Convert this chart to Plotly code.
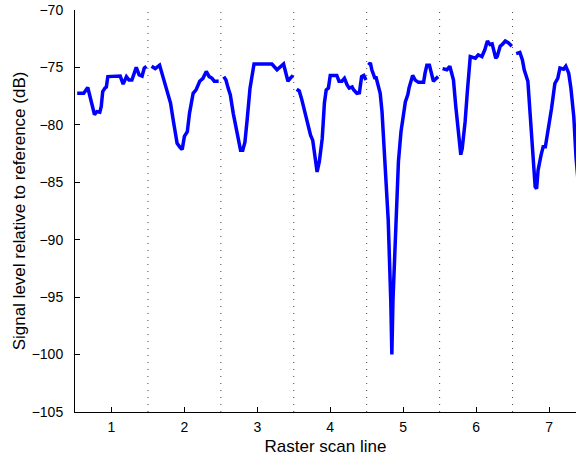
import plotly.graph_objects as go

# Scan-line boundaries (dotted separators)
boundaries = [1.5, 2.5, 3.5, 4.5, 5.5, 6.5]
xtick_vals = [1, 2, 3, 4, 5, 6, 7]
ytick_vals = [-105, -100, -95, -90, -85, -80, -75, -70]

seg1_x = [0.53, 0.62, 0.675, 0.72, 0.767, 0.80, 0.84, 0.86, 0.88, 0.91, 0.93, 0.95, 1.12, 1.16, 1.205, 1.24, 1.28, 1.34, 1.38, 1.42, 1.45, 1.48]
seg1_y = [-77.25, -77.25, -76.75, -78.0, -79.1, -78.85, -78.9, -78.4, -77.1, -76.8, -76.7, -75.8, -75.75, -76.45, -75.8, -76.1, -76.1, -75.0, -75.65, -75.75, -75.05, -74.9]

seg2_x = [1.55, 1.60, 1.66, 1.69, 1.76, 1.81, 1.85, 1.90, 1.945, 1.97, 2.0, 2.04, 2.07, 2.12, 2.16, 2.21, 2.255, 2.30, 2.34, 2.38, 2.41, 2.47]
seg2_y = [-74.9, -75.1, -74.8, -75.5, -76.95, -78.1, -79.7, -81.6, -82.0, -82.15, -81.0, -80.6, -79.0, -77.25, -76.95, -76.2, -75.95, -75.35, -75.8, -75.95, -76.2, -76.2]

seg3_x = [2.54, 2.57, 2.60, 2.63, 2.67, 2.72, 2.77, 2.80, 2.83, 2.86, 2.90, 2.955, 3.20, 3.27, 3.315, 3.36, 3.38, 3.42, 3.45, 3.49]
seg3_y = [-75.8, -76.1, -76.8, -77.4, -79.0, -80.45, -82.2, -82.2, -81.5, -79.6, -76.8, -74.7, -74.7, -75.2, -74.9, -74.7, -75.2, -76.2, -75.95, -75.7]

seg4_x = [3.54, 3.575, 3.61, 3.65, 3.69, 3.73, 3.76, 3.795, 3.82, 3.85, 3.89, 3.92, 3.945, 3.975, 4.0, 4.09, 4.12, 4.16, 4.195, 4.23, 4.26, 4.30, 4.32, 4.365, 4.40, 4.43, 4.46, 4.49]
seg4_y = [-76.9, -77.05, -77.8, -78.85, -79.9, -80.9, -81.35, -82.95, -84.1, -83.2, -81.2, -78.1, -76.95, -76.8, -75.7, -75.7, -76.2, -76.2, -75.95, -76.5, -76.8, -76.7, -76.95, -77.25, -77.2, -75.8, -75.7, -76.1]

seg5_x = [4.525, 4.55, 4.57, 4.61, 4.63, 4.66, 4.685, 4.71, 4.73, 4.74, 4.795, 4.83, 4.845, 4.86, 4.904, 4.935, 4.97, 4.99, 5.03, 5.065, 5.08, 5.13, 5.165, 5.21, 5.28, 5.30, 5.325, 5.36, 5.39, 5.415, 5.445, 5.48]
seg5_y = [-74.8, -74.6, -75.2, -75.9, -75.9, -76.5, -77.25, -78.85, -80.9, -82.2, -88.3, -95.3, -100.0, -95.3, -88.3, -83.2, -80.6, -79.7, -78.0, -77.35, -76.8, -75.7, -76.1, -76.3, -76.3, -75.5, -74.8, -74.8, -75.65, -76.2, -76.0, -75.8]

seg6_x = [5.54, 5.60, 5.64, 5.69, 5.72, 5.76, 5.79, 5.81, 5.85, 5.88, 5.905, 5.92, 5.99, 6.03, 6.08, 6.12, 6.155, 6.19, 6.22, 6.27, 6.29, 6.33, 6.36, 6.40, 6.44, 6.49]
seg6_y = [-75.1, -75.2, -74.9, -76.1, -78.3, -80.9, -82.6, -82.05, -79.7, -77.1, -75.05, -74.05, -74.2, -73.9, -74.05, -73.45, -72.7, -73.0, -72.95, -74.2, -74.05, -73.15, -73.0, -72.7, -72.85, -73.15]

seg7_x = [6.55, 6.60, 6.635, 6.66, 6.71, 6.74, 6.77, 6.81, 6.83, 6.85, 6.89, 6.92, 6.95, 6.99, 7.035, 7.08, 7.12, 7.15, 7.20, 7.23, 7.27, 7.30, 7.34, 7.37, 7.40]
seg7_y = [-73.8, -73.7, -74.35, -75.2, -76.2, -79.0, -81.9, -85.4, -85.55, -83.95, -82.65, -81.9, -81.9, -80.45, -78.55, -76.4, -75.95, -75.05, -75.15, -74.9, -75.5, -76.8, -79.3, -82.8, -85.0]

segments = [(seg1_x, seg1_y), (seg2_x, seg2_y), (seg3_x, seg3_y), (seg4_x, seg4_y),
            (seg5_x, seg5_y), (seg6_x, seg6_y), (seg7_x, seg7_y)]

fig = go.Figure()
for sx, sy in segments:
    fig.add_trace(go.Scatter(x=sx, y=sy, mode="lines",
                             line=dict(color="#0000ff", width=3.5),
                             showlegend=False, hoverinfo="skip"))

for b in boundaries:
    fig.add_shape(type="line", xref="x", yref="y", x0=b, x1=b, y0=-105, y1=-70,
                  line=dict(color="#444444", width=1, dash="1px,6px"), layer="below")

font_family = "Liberation Sans, Arial, sans-serif"
fig.update_layout(
    width=576, height=457,
    margin=dict(l=75, r=0, t=10, b=45),
    paper_bgcolor="white", plot_bgcolor="white",
    font=dict(family=font_family, size=14, color="black"),
    xaxis=dict(range=[0.5, 7.37], tickvals=xtick_vals, ticks="inside", ticklen=5,
               tickcolor="black", showline=True, linecolor="black", linewidth=1,
               showgrid=False, zeroline=False, mirror=False, ticklabelstandoff=2,
               title=dict(text="Raster scan line", standoff=6)),
    yaxis=dict(range=[-105, -70], tickvals=ytick_vals, ticks="inside", ticklen=5,
               tickcolor="black", showline=True, linecolor="black", linewidth=1,
               showgrid=False, zeroline=False, mirror=False, ticklabelstandoff=8,
               title=dict(text="Signal level relative to reference (dB)", standoff=1)),
)

fig.write_html("out.html")
